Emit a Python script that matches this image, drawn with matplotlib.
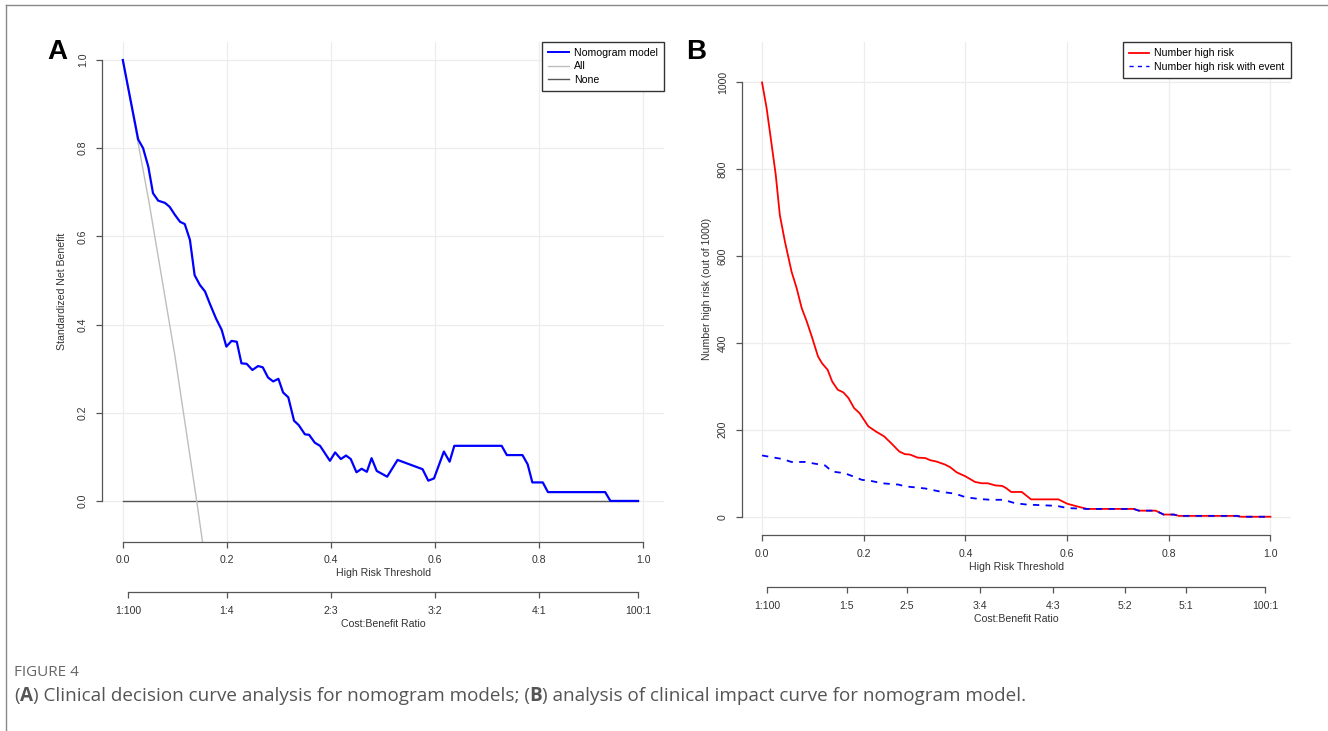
import matplotlib
matplotlib.use("Agg")
import matplotlib.pyplot as plt
from matplotlib.lines import Line2D

plt.rcParams['font.family'] = ['Liberation Sans', 'DejaVu Sans']

# ---- panel A: decision curve (standardized net benefit) ----
thr_model = [0.0, 0.0295, 0.039, 0.049, 0.058, 0.068, 0.081, 0.090, 0.100, 0.110,
             0.119, 0.129, 0.138, 0.148, 0.158, 0.167, 0.179, 0.190, 0.199, 0.209,
             0.219, 0.228, 0.238, 0.249, 0.260, 0.269, 0.279, 0.289, 0.299, 0.308,
             0.318, 0.329, 0.338, 0.350, 0.358, 0.369, 0.379, 0.398, 0.408, 0.419,
             0.429, 0.438, 0.449, 0.459, 0.469, 0.478, 0.488, 0.508, 0.528, 0.576,
             0.587, 0.598, 0.617, 0.628, 0.637, 0.728, 0.738, 0.768, 0.778, 0.787,
             0.807, 0.817, 0.927, 0.937, 0.99]
nb_model = [1.0, 0.820, 0.800, 0.758, 0.698, 0.681, 0.676, 0.667, 0.649, 0.633,
            0.628, 0.592, 0.512, 0.490, 0.475, 0.448, 0.414, 0.388, 0.350, 0.363,
            0.361, 0.312, 0.311, 0.297, 0.306, 0.303, 0.280, 0.271, 0.277, 0.246,
            0.235, 0.182, 0.172, 0.151, 0.150, 0.132, 0.125, 0.091, 0.110, 0.095,
            0.103, 0.095, 0.065, 0.073, 0.066, 0.097, 0.068, 0.055, 0.093, 0.072,
            0.046, 0.051, 0.112, 0.089, 0.125, 0.125, 0.104, 0.104, 0.083, 0.042,
            0.042, 0.020, 0.020, 0.0, 0.0]
thr_all = [0.0, 0.05, 0.10, 0.142, 0.16]
nb_all = [1.0, 0.68, 0.33, 0.0, -0.15]
thr_none = [0.0, 0.99]
nb_none = [0.0, 0.0]

# ---- panel B: clinical impact curve ----
thr_high = [0.0, 0.009, 0.019, 0.027, 0.035, 0.045, 0.058, 0.068, 0.078, 0.088,
            0.098, 0.110, 0.118, 0.129, 0.138, 0.149, 0.160, 0.170, 0.181, 0.192,
            0.209, 0.224, 0.240, 0.255, 0.270, 0.281, 0.291, 0.306, 0.321, 0.331,
            0.343, 0.360, 0.370, 0.383, 0.400, 0.419, 0.432, 0.444, 0.459, 0.472,
            0.480, 0.490, 0.511, 0.529, 0.583, 0.600, 0.619, 0.639, 0.731, 0.741,
            0.774, 0.790, 0.810, 0.820, 0.934, 0.942, 1.0]
n_high = [999, 940, 855, 786, 694, 633, 564, 526, 480, 449,
          414, 369, 353, 338, 311, 292, 286, 273, 250, 238,
          208, 196, 185, 168, 150, 144, 143, 136, 135, 130,
          127, 120, 114, 102, 93, 80, 77, 77, 72, 71,
          66, 57, 57, 40, 40, 30, 24, 18, 18, 14,
          14, 5, 5, 2, 2, 0, 0]
thr_event = [0.0, 0.019, 0.039, 0.058, 0.085, 0.104, 0.124, 0.138, 0.163, 0.183,
             0.196, 0.216, 0.236, 0.268, 0.281, 0.321, 0.354, 0.380, 0.400, 0.426,
             0.449, 0.475, 0.498, 0.521, 0.580, 0.600, 0.639, 0.731, 0.741, 0.774,
             0.790, 0.810, 0.820, 0.934, 0.942, 1.0]
n_event = [141, 137, 133, 126, 126, 122, 118, 104, 100, 91,
           85, 82, 77, 74, 70, 65, 57, 53, 45, 41,
           39, 39, 31, 28, 25, 20, 18, 18, 14, 14,
           5, 5, 2, 2, 0, 0]

thr_ticks = [0.0, 0.2, 0.4, 0.6, 0.8, 1.0]
cb_labels_a = ["1:100", "1:4", "2:3", "3:2", "4:1", "100:1"]
cb_labels_b = ["1:100", "1:5", "2:5", "3:4", "4:3", "5:2", "5:1", "100:1"]


def cb_pos(lab):
    a, b = lab.split(":")
    return float(a) / (float(a) + float(b))


AX_COL = "#555555"
TXT_COL = "#333333"
GRID_COL = "#EDEDED"
FS = 7.6

fig = plt.figure(figsize=(13.28, 7.31), dpi=100)
W, H = 1328.0, 731.0


def px_axes(l, t, r, b):
    return fig.add_axes([l / W, 1 - b / H, (r - l) / W, (b - t) / H])


def style_main(ax, yticks, ybounds):
    for s in ("top", "right"):
        ax.spines[s].set_visible(False)
    ax.spines["left"].set_bounds(*ybounds)
    ax.spines["bottom"].set_bounds(0, 1)
    for s in ("left", "bottom"):
        ax.spines[s].set_color(AX_COL)
        ax.spines[s].set_linewidth(0.9)
    ax.set_xticks(thr_ticks)
    ax.set_xticklabels([f"{v:.1f}" for v in thr_ticks])
    ax.set_yticks(yticks)
    ax.tick_params(colors=AX_COL, labelcolor=TXT_COL, labelsize=FS, length=4, width=0.9, pad=6)
    for lab in ax.get_yticklabels():
        lab.set_rotation(90)
        lab.set_va("center")
    for v in thr_ticks:
        ax.axvline(v, color=GRID_COL, lw=0.9, zorder=0)
    for v in yticks:
        ax.axhline(v, color=GRID_COL, lw=0.9, zorder=0)
    ax.set_xlabel("High Risk Threshold", fontsize=FS, color=TXT_COL, labelpad=2)


def cost_axis(ax_main, t_line, labels):
    pos = ax_main.get_position()
    cax = fig.add_axes([pos.x0, 1 - t_line / H, pos.width, 0.0001])
    cax.set_xlim(ax_main.get_xlim())
    cax.patch.set_visible(False)
    for s in ("top", "right", "left"):
        cax.spines[s].set_visible(False)
    cax.spines["bottom"].set_bounds(cb_pos(labels[0]), cb_pos(labels[-1]))
    cax.spines["bottom"].set_color(AX_COL)
    cax.spines["bottom"].set_linewidth(0.9)
    cax.set_yticks([])
    cax.set_xticks([cb_pos(l) for l in labels])
    cax.set_xticklabels(labels)
    cax.tick_params(colors=AX_COL, labelcolor=TXT_COL, labelsize=FS, length=4, width=0.9, pad=6)
    cax.set_xlabel("Cost:Benefit Ratio", fontsize=FS, color=TXT_COL, labelpad=2)


def box_legend(ax, handles, labels):
    leg = ax.legend(handles=handles, labels=labels,
                    loc="upper right", bbox_to_anchor=(1.0, 1.0), fontsize=FS,
                    fancybox=False, framealpha=1, edgecolor="#333333",
                    handlelength=1.9, labelspacing=0.33, borderpad=0.6,
                    handletextpad=0.5, borderaxespad=0)
    leg.get_frame().set_linewidth(1.0)
    return leg


# panel A
axA = px_axes(102, 41.5, 664, 541.5)
axA.set_xlim(-0.04, 1.04)
axA.set_ylim(-0.092, 1.042)
style_main(axA, [0.0, 0.2, 0.4, 0.6, 0.8, 1.0], (0, 1))
axA.set_yticklabels([f"{v:.1f}" for v in [0.0, 0.2, 0.4, 0.6, 0.8, 1.0]])
axA.plot(thr_none, nb_none, color="#555555", lw=1.0, zorder=2)
axA.plot(thr_all, nb_all, color="#BEBEBE", lw=1.0, zorder=2)
axA.plot(thr_model, nb_model, color="#0000FF", lw=1.6, zorder=3)
axA.set_ylabel("Standardized Net Benefit", fontsize=FS, color=TXT_COL, labelpad=8)
box_legend(axA, [Line2D([], [], color="#0000FF", lw=1.4),
                 Line2D([], [], color="#BEBEBE", lw=1.0),
                 Line2D([], [], color="#555555", lw=1.0)],
           ["Nomogram model", "All", "None"])
cost_axis(axA, 592, cb_labels_a)

# panel B
axB = px_axes(741.7, 42, 1290.8, 535)
axB.set_xlim(-0.04, 1.04)
axB.set_ylim(-42, 1092)
style_main(axB, [0, 200, 400, 600, 800, 1000], (0, 1000))
axB.plot(thr_high, n_high, color="#FF0000", lw=1.3, zorder=3)
axB.plot(thr_event, n_event, color="#0000FF", lw=1.3, ls=(0, (3.5, 3.5)), zorder=4)
axB.set_ylabel("Number high risk (out of 1000)", fontsize=FS, color=TXT_COL, labelpad=4)
box_legend(axB, [Line2D([], [], color="#FF0000", lw=1.3),
                 Line2D([], [], color="#0000FF", lw=1.0, ls=(0, (3, 3)))],
           ["Number high risk", "Number high risk with event"])
cost_axis(axB, 587, cb_labels_b)

# panel letters
fig.text(47 / W, 1 - 52 / H, "A", fontsize=20, fontweight="bold", ha="left", va="center")
fig.text(686 / W, 1 - 52 / H, "B", fontsize=20, fontweight="bold", ha="left", va="center")

# frame lines of the figure block
fig.add_artist(Line2D([6 / W, 1.0], [1 - 5 / H, 1 - 5 / H], color="#888888", lw=1.0))
fig.add_artist(Line2D([6 / W, 6 / W], [0.0, 1 - 5 / H], color="#888888", lw=1.0))

# caption
fig.text(14 / W, 1 - 672 / H, "FIGURE 4", fontsize=11, color="#666666",
         family=["Open Sans", "DejaVu Sans"], ha="left", va="center")
cap_parts = [("(", "normal"), ("A", "bold"),
             (") Clinical decision curve analysis for nomogram models; (", "normal"),
             ("B", "bold"), (") analysis of clinical impact curve for nomogram model.", "normal")]
renderer = fig.canvas.get_renderer()
x = 14.0
for txt, wt in cap_parts:
    t = fig.text(x / W, 1 - 696 / H, txt, fontsize=13.6, color="#555555", fontweight=wt,
                 family=["Open Sans", "DejaVu Sans"], ha="left", va="center")
    bb = t.get_window_extent(renderer=renderer)
    x += bb.width

fig.savefig("out.png", dpi=100)
